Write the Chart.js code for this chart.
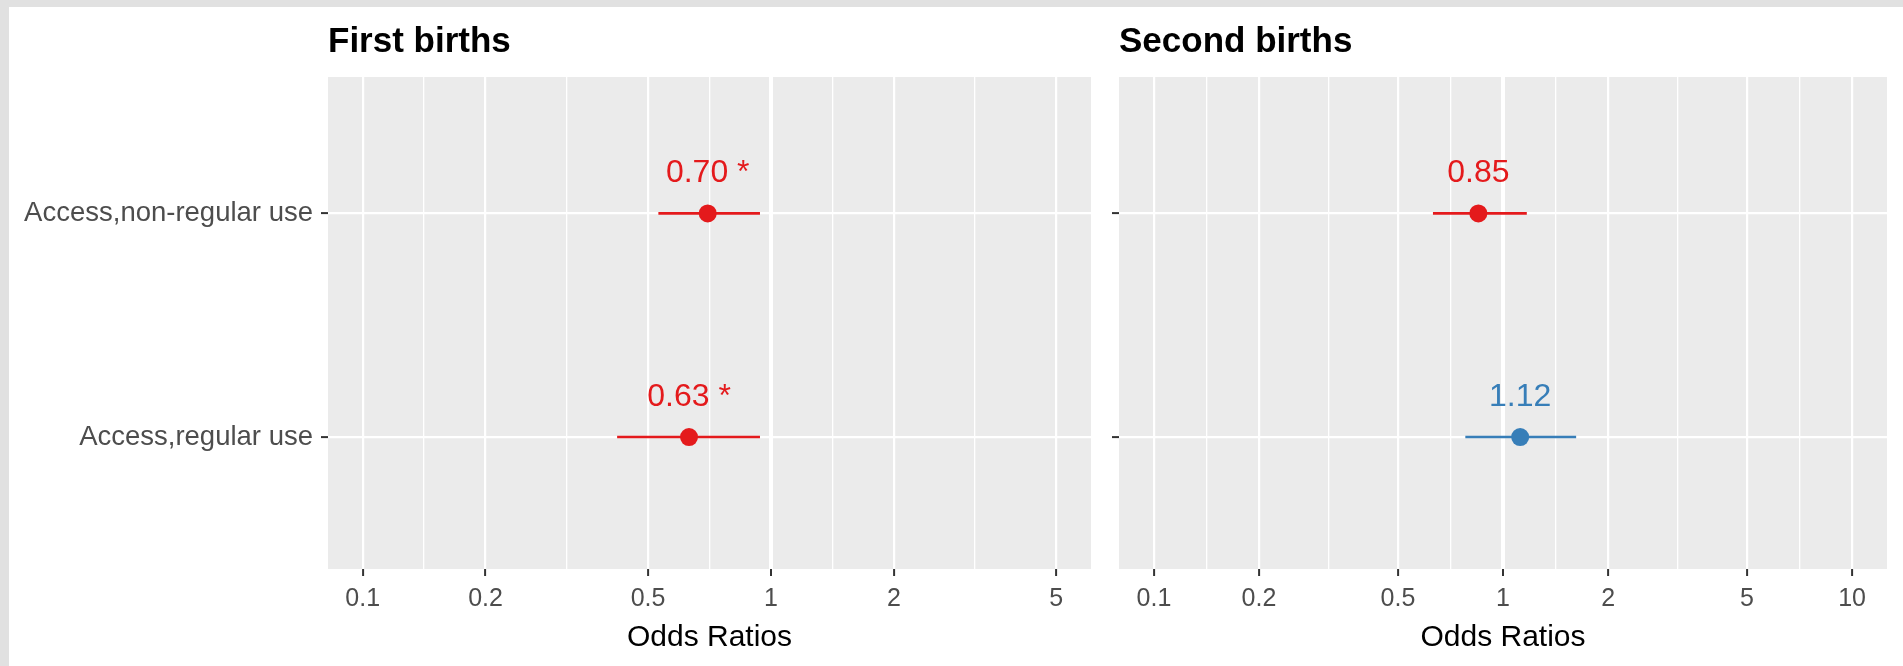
<!DOCTYPE html>
<html>
<head>
<meta charset="utf-8">
<script src="https://cdn.jsdelivr.net/npm/chart.js@4.4.1/dist/chart.umd.min.js"></script>
<style>
  html, body { margin: 0; padding: 0; background: #e1e1e1; }
  body { width: 1903px; height: 666px; position: relative; overflow: hidden; }
  #sheet { position: absolute; left: 9px; top: 7px; right: 0; bottom: 0; background: #ffffff; }
  #c1 { position: absolute; left: 0; top: 0; }
  #c2 { position: absolute; left: 1100px; top: 0; }
</style>
</head>
<body>
<div id="sheet"></div>
<canvas id="c1" width="1100" height="666"></canvas>
<canvas id="c2" width="803" height="666"></canvas>
<script>
// Categories, bottom to top on the y axis
const categories = ['Access,regular use', 'Access,non-regular use'];
const panelTitles = ['First births', 'Second births'];
const axisTitle = 'Odds Ratios';

// First births: odds ratios with 95% confidence limits
const firstOR   = [0.63, 0.70];
const firstLow  = [0.42, 0.53];
const firstHigh = [0.94, 0.94];
const firstSig  = [true, true];

// Second births
const secondOR   = [1.12, 0.85];
const secondLow  = [0.78, 0.63];
const secondHigh = [1.62, 1.17];
const secondSig  = [false, false];

// Log-axis breaks and their labels
const firstBreaks  = [0.1, 0.2, 0.5, 1, 2, 5];
const firstBreakLabels  = ['0.1', '0.2', '0.5', '1', '2', '5'];
const secondBreaks = [0.1, 0.2, 0.5, 1, 2, 5, 10];
const secondBreakLabels = ['0.1', '0.2', '0.5', '1', '2', '5', '10'];
const firstLimits  = [0.1, 5];
const secondLimits = [0.1, 10];

const RED = '#E41A1C';
const BLUE = '#377EB8';
const FONT = "'Liberation Sans', Arial, sans-serif";

// 5% expansion of the limits in log space
function expand(lim) {
  const a = Math.log10(lim[0]), b = Math.log10(lim[1]);
  const d = 0.05 * (b - a);
  return [Math.pow(10, a - d), Math.pow(10, b + d)];
}

// minor grid lines sit halfway (in log space) between consecutive breaks
function minorsFor(breaks) {
  const out = [];
  for (let i = 0; i < breaks.length - 1; i++) out.push(Math.sqrt(breaks[i] * breaks[i + 1]));
  return out;
}

function buildPanel(canvasId, cfg) {
  const range = expand(cfg.limits);
  const minors = minorsFor(cfg.breaks);
  const gridValues = cfg.breaks.concat(minors).sort((a, b) => a - b);
  const isMajor = v => cfg.breaks.some(b => Math.abs(b - v) < 1e-9);
  const colorOf = v => (v < 1 ? RED : BLUE);

  const datasets = [{
    type: 'scatter',
    data: cfg.or.map((v, i) => ({ x: v, y: i + 1 })),
    pointRadius: 9,
    pointHoverRadius: 9,
    pointBorderWidth: 0,
    pointBackgroundColor: cfg.or.map(colorOf),
    order: 0
  }];
  cfg.or.forEach((v, i) => {
    datasets.push({
      type: 'line',
      data: [{ x: cfg.low[i], y: i + 1 }, { x: cfg.high[i], y: i + 1 }],
      borderColor: colorOf(v),
      borderWidth: 2.6,
      pointRadius: 0,
      showLine: true,
      fill: false,
      order: 1
    });
  });

  const panelPlugin = {
    id: 'panelDecor',
    beforeDraw(chart) {
      const { ctx, chartArea: a } = chart;
      ctx.save();
      ctx.fillStyle = '#EBEBEB';
      ctx.fillRect(a.left, a.top, a.right - a.left, a.bottom - a.top);
      ctx.restore();
    },
    afterDatasetsDraw(chart) {
      const { ctx } = chart;
      const xs = chart.scales.x, ys = chart.scales.y;
      ctx.save();
      ctx.font = '32px ' + FONT;
      ctx.textAlign = 'center';
      ctx.textBaseline = 'middle';
      cfg.or.forEach((v, i) => {
        const label = v.toFixed(2) + (cfg.sig[i] ? ' *' : '');
        ctx.fillStyle = colorOf(v);
        ctx.fillText(label, xs.getPixelForValue(v), ys.getPixelForValue(i + 1 + 0.18));
      });
      ctx.restore();
    },
    afterDraw(chart) {
      const { ctx, chartArea: a } = chart;
      ctx.save();
      ctx.font = 'bold 35px ' + FONT;
      ctx.fillStyle = '#000000';
      ctx.textAlign = 'left';
      ctx.textBaseline = 'alphabetic';
      ctx.fillText(cfg.title, a.left, 52);
      ctx.restore();
    }
  };

  return new Chart(document.getElementById(canvasId), {
    type: 'scatter',
    data: { datasets },
    plugins: [panelPlugin],
    options: {
      responsive: false,
      animation: false,
      events: [],
      layout: { padding: { top: 77, right: cfg.padRight, bottom: 0, left: 0 } },
      plugins: { legend: { display: false }, tooltip: { enabled: false } },
      scales: {
        x: {
          type: 'logarithmic',
          position: 'bottom',
          min: range[0],
          max: range[1],
          afterBuildTicks: s => { s.ticks = gridValues.map(v => ({ value: v })); },
          afterFit: s => { s.height = 97; },
          border: { display: false },
          grid: {
            color: '#FFFFFF',
            lineWidth: c => (c.tick && Math.abs(c.tick.value - 1) < 1e-9 ? 4 : (c.tick && isMajor(c.tick.value) ? 2.2 : 1.3)),
            drawTicks: true,
            tickLength: 7,
            tickWidth: 2,
            tickColor: c => (c.tick && isMajor(c.tick.value) ? '#333333' : 'rgba(0,0,0,0)')
          },
          ticks: {
            autoSkip: false,
            maxRotation: 0,
            minRotation: 0,
            padding: 8,
            color: '#4D4D4D',
            font: { family: FONT, size: 25 },
            callback: v => {
              const k = cfg.breaks.findIndex(b => Math.abs(b - v) < 1e-9);
              return k >= 0 ? cfg.breakLabels[k] : '';
            }
          },
          title: {
            display: true,
            text: axisTitle,
            color: '#000000',
            font: { family: FONT, size: 30 },
            padding: { top: 0, bottom: 10 }
          }
        },
        y: {
          type: 'linear',
          position: 'left',
          min: 0.41,
          max: 2.61,
          afterBuildTicks: s => { s.ticks = categories.map((c, i) => ({ value: i + 1 })); },
          afterFit: s => { s.width = cfg.yWidth; },
          border: { display: false },
          grid: {
            color: '#FFFFFF',
            lineWidth: 2.2,
            drawTicks: true,
            tickLength: 7,
            tickWidth: 2,
            tickColor: '#333333'
          },
          ticks: {
            padding: 8,
            color: '#4D4D4D',
            font: { family: FONT, size: 27.5 },
            callback: v => (cfg.showCategories ? categories[Math.round(v) - 1] : '')
          }
        }
      }
    }
  });
}

buildPanel('c1', {
  title: panelTitles[0],
  or: firstOR, low: firstLow, high: firstHigh, sig: firstSig,
  breaks: firstBreaks, breakLabels: firstBreakLabels, limits: firstLimits,
  yWidth: 328, padRight: 5, showCategories: true
});
buildPanel('c2', {
  title: panelTitles[1],
  or: secondOR, low: secondLow, high: secondHigh, sig: secondSig,
  breaks: secondBreaks, breakLabels: secondBreakLabels, limits: secondLimits,
  yWidth: 19, padRight: 16, showCategories: false
});
</script>
</body>
</html>
